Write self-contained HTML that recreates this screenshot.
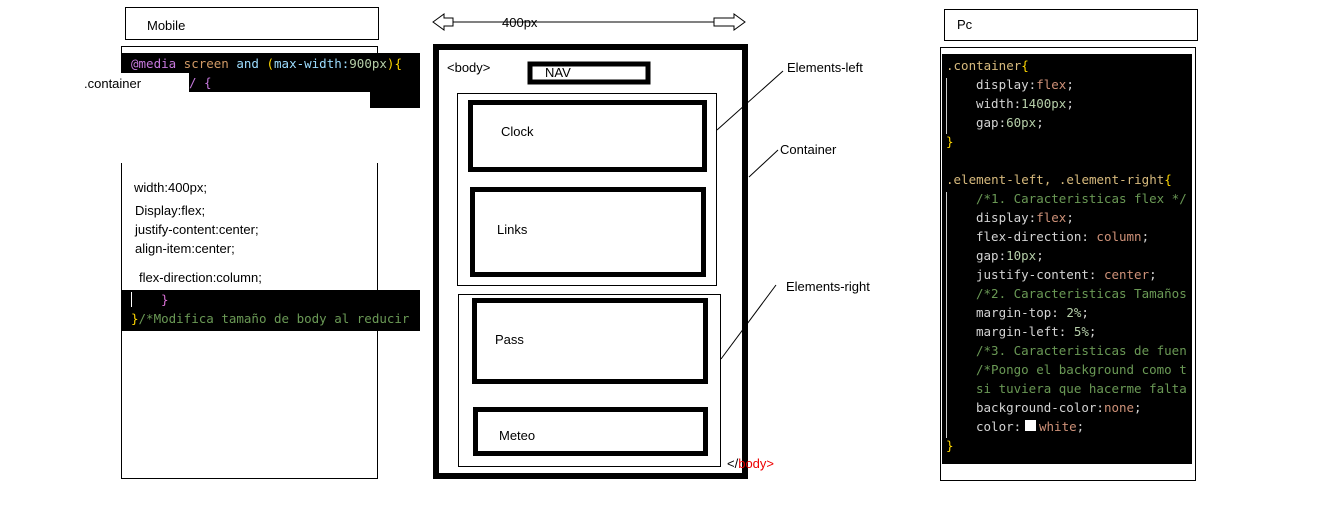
<!DOCTYPE html>
<html><head><meta charset="utf-8"><style>
html,body{margin:0;padding:0;background:#fff;width:1319px;height:520px;overflow:hidden}
svg{display:block}
.s{font-family:"Liberation Sans",sans-serif;font-size:13px;fill:#000}
.m{font-family:"DejaVu Sans Mono","Liberation Mono",monospace;font-size:12.5px}
</style></head><body>
<svg width="1319" height="520" xmlns="http://www.w3.org/2000/svg">
<!-- LEFT -->
<rect x="125.5" y="7.5" width="253" height="32" fill="none" stroke="#000"/>
<text x="147" y="30" class="s">Mobile</text>
<rect x="121.5" y="46.5" width="256" height="432" fill="none" stroke="#000"/>
<rect x="121" y="53" width="299" height="39" fill="#000"/>
<rect x="370" y="92" width="50" height="16" fill="#000"/>
<rect x="80" y="73" width="109" height="19" fill="#fff"/>
<rect x="110" y="92" width="260" height="71" fill="#fff"/>
<rect x="370" y="108" width="10" height="55" fill="#fff"/>
<text x="131" y="68" class="m"><tspan fill="#c678dd">@media</tspan><tspan fill="#d19a66"> screen</tspan><tspan fill="#9cdcfe"> and</tspan><tspan fill="#ffd700"> (</tspan><tspan fill="#9cdcfe">max-width:</tspan><tspan fill="#b5cea8">900px</tspan><tspan fill="#ffd700">){</tspan></text>
<text x="189" y="87" class="m" fill="#c678dd">/ {</text>
<text x="84" y="88" class="s">.container</text>
<text x="134" y="192" class="s">width:400px;</text>
<text x="135" y="215" class="s">Display:flex;</text>
<text x="135" y="234" class="s">justify-content:center;</text>
<text x="135" y="253" class="s">align-item:center;</text>
<text x="139" y="282" class="s">flex-direction:column;</text>
<rect x="121" y="290" width="299" height="41" fill="#000"/>
<rect x="131" y="292" width="1" height="15" fill="#fff"/>
<text x="161" y="304" class="m" fill="#da70d6">}</text>
<text x="131" y="323" class="m"><tspan fill="#ffd700">}</tspan><tspan fill="#6a9955">/*Modifica tamaño de body al reducir</tspan></text>

<!-- MIDDLE -->
<line x1="433" y1="22" x2="745" y2="22" stroke="#000"/>
<polygon points="433,22 444,14 444,18 453,18 453,26 444,26 444,30" fill="#fff" stroke="#000"/>
<polygon points="745,22 734,14 734,18 714,18 714,26 734,26 734,30" fill="#fff" stroke="#000"/>
<text x="502" y="27" class="s">400px</text>
<rect x="436" y="47" width="309" height="429" fill="none" stroke="#000" stroke-width="6"/>
<text x="447" y="72" class="s">&lt;body&gt;</text>
<rect x="530" y="64" width="118" height="18" fill="none" stroke="#000" stroke-width="5"/>
<text x="545" y="77" class="s">NAV</text>
<rect x="457.5" y="93.5" width="259" height="192" fill="none" stroke="#000"/>
<rect x="470.5" y="102.5" width="234" height="67" fill="none" stroke="#000" stroke-width="5"/>
<text x="501" y="136" class="s">Clock</text>
<rect x="472.5" y="189.5" width="231" height="85" fill="none" stroke="#000" stroke-width="5"/>
<text x="497" y="234" class="s">Links</text>
<rect x="458.5" y="294.5" width="262" height="172" fill="none" stroke="#000"/>
<rect x="474.5" y="300.5" width="231" height="81" fill="none" stroke="#000" stroke-width="5"/>
<text x="495" y="344" class="s">Pass</text>
<rect x="475.5" y="409.5" width="230" height="44" fill="none" stroke="#000" stroke-width="5"/>
<text x="499" y="440" class="s">Meteo</text>
<text x="727" y="468" class="s"><tspan>&lt;/</tspan><tspan fill="#e00">body&gt;</tspan></text>
<line x1="717" y1="130" x2="783" y2="71" stroke="#000"/>
<text x="787" y="72" class="s">Elements-left</text>
<line x1="749" y1="177" x2="778" y2="150" stroke="#000"/>
<text x="780" y="154" class="s">Container</text>
<line x1="721" y1="359" x2="776" y2="285" stroke="#000"/>
<text x="786" y="291" class="s">Elements-right</text>

<!-- RIGHT -->
<rect x="944.5" y="9.5" width="253" height="31" fill="none" stroke="#000"/>
<text x="957" y="29" class="s">Pc</text>
<rect x="940.5" y="47.5" width="255" height="433" fill="none" stroke="#000"/>
<rect x="942" y="54" width="250" height="410" fill="#000"/>
<g class="m" fill="#d4d4d4">
<text x="946" y="70"><tspan fill="#d7ba7d">.container</tspan><tspan fill="#ffd700">{</tspan></text>
<text x="976" y="89">display:<tspan fill="#ce9178">flex</tspan>;</text>
<text x="976" y="108">width:<tspan fill="#b5cea8">1400px</tspan>;</text>
<text x="976" y="127">gap:<tspan fill="#b5cea8">60px</tspan>;</text>
<text x="946" y="146" fill="#ffd700">}</text>
<text x="946" y="184"><tspan fill="#d7ba7d">.element-left, .element-right</tspan><tspan fill="#ffd700">{</tspan></text>
<text x="976" y="203" fill="#6a9955">/*1. Caracteristicas flex */</text>
<text x="976" y="222">display:<tspan fill="#ce9178">flex</tspan>;</text>
<text x="976" y="241">flex-direction: <tspan fill="#ce9178">column</tspan>;</text>
<text x="976" y="260">gap:<tspan fill="#b5cea8">10px</tspan>;</text>
<text x="976" y="279">justify-content: <tspan fill="#ce9178">center</tspan>;</text>
<text x="976" y="298" fill="#6a9955">/*2. Caracteristicas Tamaños</text>
<text x="976" y="317">margin-top: <tspan fill="#b5cea8">2%</tspan>;</text>
<text x="976" y="336">margin-left: <tspan fill="#b5cea8">5%</tspan>;</text>
<text x="976" y="355" fill="#6a9955">/*3. Caracteristicas de fuen</text>
<text x="976" y="374" fill="#6a9955">/*Pongo el background como t</text>
<text x="976" y="393" fill="#6a9955">si tuviera que hacerme falta</text>
<text x="976" y="412">background-color:<tspan fill="#ce9178">none</tspan>;</text>
<text x="976" y="431">color:</text>
<text x="1039" y="431"><tspan fill="#ce9178">white</tspan>;</text>
<text x="946" y="450" fill="#ffd700">}</text>
</g>
<rect x="1025" y="420" width="11" height="11" fill="#fff"/>
<rect x="1192" y="54" width="10" height="410" fill="#fff"/>
<line x1="1195.5" y1="47" x2="1195.5" y2="481" stroke="#000"/>
<line x1="946.5" y1="78" x2="946.5" y2="134" stroke="#ccc"/>
<line x1="946.5" y1="192" x2="946.5" y2="438" stroke="#ccc"/>
</svg>
</body></html>
